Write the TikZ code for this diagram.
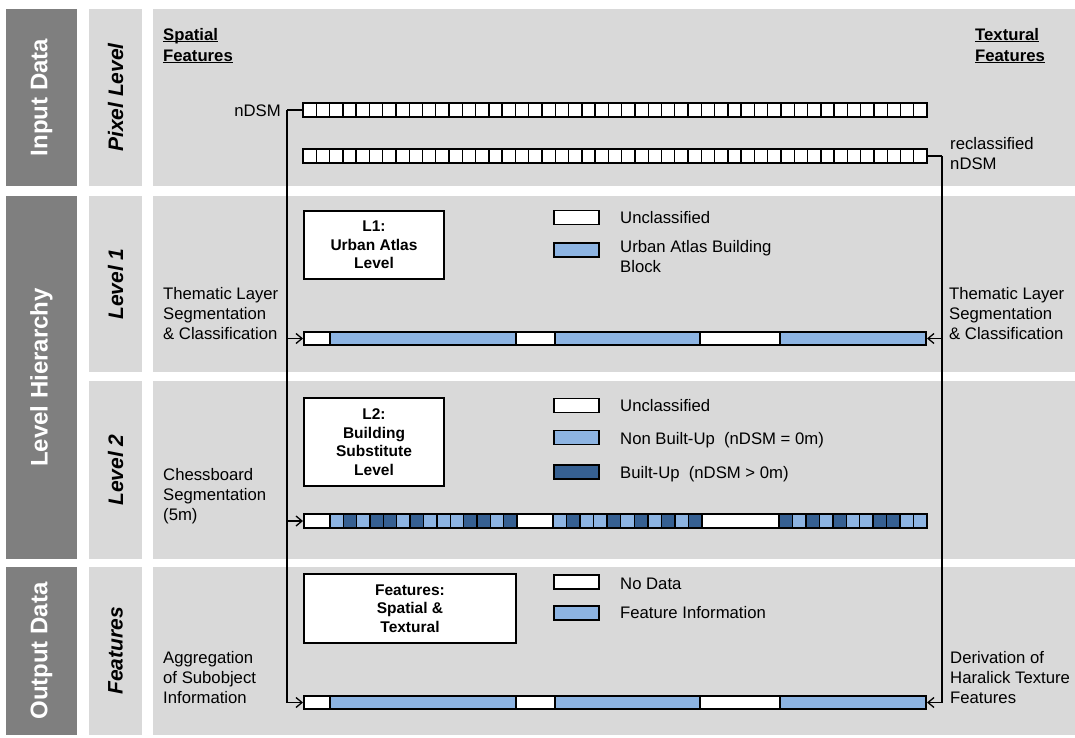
\documentclass[tikz,border=0pt]{standalone}
\usepackage{fontspec}
\setmainfont{Liberation Sans}
\usetikzlibrary{arrows.meta,positioning,calc}

\definecolor{panelgrey}{RGB}{217,217,217}
\definecolor{bandgrey}{RGB}{127,127,127}
\definecolor{nb}{RGB}{141,180,226}
\definecolor{bu}{RGB}{54,96,146}

\newcommand{\hdul}[1]{\setbox0\hbox{#1}\rlap{\rule[-1.6pt]{\wd0}{1.2pt}}\box0}

\begin{document}
\begin{tikzpicture}[
    x=1pt, y=-1pt,
    bandtext/.style={rotate=90, text=white, inner sep=0pt, font=\fontsize{24}{28}\selectfont\bfseries},
    leveltext/.style={rotate=90, inner sep=0pt, font=\fontsize{21}{25}\selectfont\bfseries\itshape},
    sidetext/.style={anchor=north west, align=left, inner sep=0pt, font=\fontsize{16.7}{20.3}\selectfont},
    header/.style={anchor=north west, align=left, inner sep=0pt, font=\fontsize{16.7}{21}\selectfont\bfseries},
    levelbox/.style={draw, line width=1.8pt, fill=white, align=center, font=\fontsize{15.5}{18.6}\selectfont\bfseries},
    swatch/.style={draw, line width=1.8pt, minimum width=45, minimum height=14, inner sep=0pt},
    legend/.style={anchor=base west, inner sep=0pt, font=\fontsize{16.7}{20.3}\selectfont},
    bar/.style={draw, line width=2pt, inner sep=0pt, minimum height=13},
    seg/.style={draw, line width=1.4pt},
    cell/.style={draw, fill=white, line width=1.4pt},
    link/.style={line width=1.3pt},
    feed/.style={-{Straight Barb[length=6pt,width=10pt]}, line width=1.3pt}
]
\useasboundingbox (0,0) rectangle (1075,738);

% background bands and panels
\fill[bandgrey] (6,9) rectangle (77,186);
\fill[bandgrey] (6,196) rectangle (77,559);
\fill[bandgrey] (6,567) rectangle (77,735);
\foreach \top/\bot in {9/186, 196/372, 381/559, 567/735} {
    \fill[panelgrey] (89,\top) rectangle (142,\bot);
    \fill[panelgrey] (153,\top) rectangle (1075,\bot);
}

% row titles
\node[bandtext] (indata) at (41.5,97.5) {Input Data};
\node[bandtext] (hierarchy) at (41.5,377.5) {Level Hierarchy};
\node[bandtext] (outdata) at (41.5,651) {Output Data};
\node[leveltext] (pixlevel) at (115.5,97.5) {Pixel Level};
\node[leveltext] (level1) at (115.5,284) {Level 1};
\node[leveltext] (level2) at (115.5,470) {Level 2};
\node[leveltext] (features) at (115.5,651) {Features};

% headers
\node[header] (spatial) at (163,28) {\hdul{Spatial}\\\hdul{Features}};
\node[header] (textural) at (975,28) {\hdul{Textural}\\\hdul{Features}};

% pixel rows
\foreach \i in {0,...,46} {
    \draw[cell] ({303+\i*13.277},103) rectangle ++(13.277,14);
    \draw[cell] ({303+\i*13.277},149) rectangle ++(13.277,14);
}
\node[bar, minimum width=624, minimum height=14] (pix1) at (615,110) {};
\node[bar, minimum width=624, minimum height=14] (pix2) at (615,156) {};
\node[legend, anchor=base east] (ndsm) at (281,117) {nDSM};
\node[sidetext] (reclass) at (950,137) {reclassified\\nDSM};

% level 1
\node[levelbox, minimum width=140, minimum height=68] (l1box) at (374,245) {L1:\\Urban Atlas\\Level};
\node[swatch, fill=white] (l1un) at (576.5,217.5) {};
\node[swatch, fill=nb] (l1ua) at (576.5,250) {};
\node[legend] (l1untext) at (620,223) {Unclassified};
\node[sidetext] (l1uatext) at (620,240) {Urban Atlas Building\\Block};
\foreach \a/\b/\c in {304/330/white, 330/516/nb, 516/555/white, 555/700/nb, 700/780/white, 780/926/nb}
    \draw[seg, fill=\c] (\a,332) rectangle (\b,345);
\node[bar, minimum width=622] (l1bar) at (615,338.5) {};
\node[sidetext] (l1left) at (163,287) {Thematic Layer\\Segmentation\\\& Classification};
\node[sidetext] (l1right) at (949,287) {Thematic Layer\\Segmentation\\\& Classification};

% level 2
\node[levelbox, minimum width=140, minimum height=88] (l2box) at (374,442) {L2:\\Building\\Substitute\\Level};
\node[swatch, fill=white] (l2un) at (576.5,405.5) {};
\node[swatch, fill=nb] (l2nb) at (576.5,437.5) {};
\node[swatch, fill=bu] (l2bu) at (576.5,472) {};
\node[legend] (l2untext) at (620,411) {Unclassified};
\node[legend] (l2nbtext) at (620,444) {Non Built-Up\ \ (nDSM = 0m)};
\node[legend] (l2butext) at (620,478) {Built-Up\ \ (nDSM > 0m)};
\foreach \a/\b in {304/330, 517/553, 702/779}
    \draw[seg, fill=white] (\a,514) rectangle (\b,528);
\foreach \c [count=\i from 0] in {nb,bu,nb,bu,bu,nb,bu,nb,nb,nb,bu,bu,nb,bu}
    \draw[seg, fill=\c] ({330+\i*13.357},514) rectangle ++(13.357,14);
\foreach \c [count=\i from 0] in {nb,bu,nb,nb,bu,nb,bu,nb,bu,nb,bu}
    \draw[seg, fill=\c] ({553+\i*13.545},514) rectangle ++(13.545,14);
\foreach \c [count=\i from 0] in {bu,nb,bu,nb,bu,nb,nb,bu,bu,nb,nb}
    \draw[seg, fill=\c] ({779+\i*13.4545},514) rectangle ++(13.4545,14);
\node[bar, minimum width=623, minimum height=14] (l2bar) at (615.5,521) {};
\node[sidetext] (l2left) at (163,468) {Chessboard\\Segmentation\\(5m)};

% output features
\node[levelbox, minimum width=212, minimum height=69] (featbox) at (410,608.5) {Features:\\Spatial \&\\Textural};
\node[swatch, fill=white] (outnd) at (576.5,582) {};
\node[swatch, fill=nb] (outfi) at (576.5,613) {};
\node[legend] (outndtext) at (620,589) {No Data};
\node[legend] (outfitext) at (620,618) {Feature Information};
\foreach \a/\b/\c in {304/330/white, 330/516/nb, 516/555/white, 555/700/nb, 700/780/white, 780/926/nb}
    \draw[seg, fill=\c] (\a,696) rectangle (\b,709);
\node[bar, minimum width=622] (outbar) at (615,702.5) {};
\node[sidetext] (outleft) at (163,651) {Aggregation\\of Subobject\\Information};
\node[sidetext] (outright) at (950,651) {Derivation of\\Haralick Texture\\Features};

% connectors
\coordinate (lspine) at (287,110);
\coordinate (rspine) at (942,156);
\draw[link] (pix1.west) -- (lspine);
\draw[feed] (lspine) |- (outbar.west);
\draw[feed] (lspine |- l1bar.west) -- (l1bar.west);
\draw[feed] (lspine |- l2bar.west) -- (l2bar.west);
\draw[link] (pix2.east) -- (rspine);
\draw[feed] (rspine) |- (outbar.east);
\draw[feed] (rspine |- l1bar.east) -- (l1bar.east);

\end{tikzpicture}
\end{document}
